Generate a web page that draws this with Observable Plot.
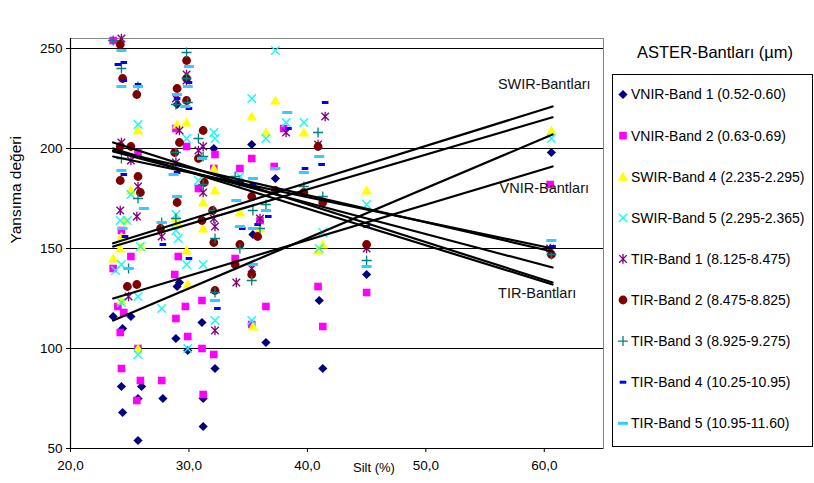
<!DOCTYPE html>
<html><head><meta charset="utf-8">
<script src="https://cdn.jsdelivr.net/npm/d3@7"></script>
<script src="https://cdn.jsdelivr.net/npm/@observablehq/plot@0.6"></script>
<style>
body{margin:0;background:#fff;}
#chart{width:814px;height:483px;}
</style>
</head><body><div id="chart"></div>
<script>
// ---- data (silt %, reflectance value) ----
const bandNames = [
  "VNIR-Band 1 (0.52-0.60)", "VNIR-Band 2 (0.63-0.69)", "SWIR-Band 4 (2.235-2.295)",
  "SWIR-Band 5 (2.295-2.365)", "TIR-Band 1 (8.125-8.475)", "TIR-Band 2 (8.475-8.825)",
  "TIR-Band 3 (8.925-9.275)", "TIR-Band 4 (10.25-10.95)", "TIR-Band 5 (10.95-11.60)"
];
const vnir1 = [[23.6,116],[24.4,110],[25.1,116],[24.3,81],[24.4,68],[25.7,75],[25.7,54],[26.0,81],[27.8,75],[28.9,105],[29.0,131],[29.2,133],[29.9,99],[31.1,113],[31.2,75],[31.2,61],[32.2,90],[29.0,222],[32.1,200],[34.3,183],[35.3,202],[35.4,157],[36.5,103],[37.3,185],[41.0,124],[41.3,90],[45.0,137],[60.6,198]];
const vnir2 = [[23.6,254],[23.6,140],[25.1,146],[29.1,146],[28.8,137],[24.0,121],[24.5,118],[24.2,108],[25.7,100],[24.3,90],[25.9,84],[25.6,74],[27.7,84],[28.9,115],[29.7,121],[29.9,106],[31.1,124],[31.1,100],[32.1,97],[31.2,77],[33.9,145],[24.3,159],[25.7,198],[28.9,210],[29.8,201],[32.2,197],[30.8,180],[32.1,190],[34.3,190],[35.3,195],[37.2,191],[38.0,210],[36.0,164],[35.3,112],[36.5,121],[40.9,131],[41.3,111],[45.0,128],[60.5,182]];
const swir4 = [[29.0,212],[29.8,213],[32.1,190],[32.2,179],[35.3,216],[25.7,209],[25.1,179],[31.2,173],[28.9,165],[31.2,160],[34.3,168],[24.3,156],[24.6,164],[23.6,145],[24.2,150],[26.0,151],[29.8,149],[29.9,132],[29.1,162],[25.7,100],[24.3,124],[37.3,224],[36.5,208],[39.7,208],[45.0,179],[36.0,160],[41.3,152],[35.4,111],[40.9,149],[60.6,209]];
const swir5 = [[25.7,212],[35.3,225],[32.1,208],[32.2,205],[29.8,205],[30.8,184],[34.3,186],[25.1,177],[24.2,164],[24.8,164],[28.9,167],[28.9,159],[23.8,139],[24.3,142],[29.8,142],[31.2,142],[29.1,155],[25.9,151],[24.3,123],[25.7,126],[27.7,120],[32.2,114],[29.9,100],[25.7,97],[35.3,114],[37.3,249],[36.5,205],[39.7,213],[38.2,213],[45.0,172],[41.3,158],[41.0,150],[60.6,205]];
const tir1 = [[24.3,255],[29.8,237],[29.8,234],[28.9,225],[29.2,209],[30.8,199],[31.2,201],[28.9,193],[24.3,203],[25.1,194],[25.7,181],[25.6,166],[24.2,169],[31.2,178],[32.1,165],[32.2,161],[27.7,156],[32.2,109],[34.0,133],[35.3,140],[24.9,126],[41.5,216],[38.2,208],[40.9,202],[36.0,165],[45.0,150],[60.5,150]];
const tir2 = [[24.2,252],[24.4,235],[25.6,227],[29.8,244],[29.8,224],[29.0,230],[29.8,235],[31.2,209],[29.2,203],[28.8,198],[30.8,195],[25.1,201],[24.2,201],[25.7,186],[24.2,184],[25.9,178],[29.0,173],[31.3,183],[32.0,169],[35.3,176],[27.6,160],[31.1,164],[32.1,153],[24.8,131],[25.6,132],[32.2,129],[34.3,152],[33.9,142],[35.3,137],[35.8,156],[37.3,179],[39.7,178],[40.9,201],[41.3,173],[45.0,152],[60.6,147]];
const tir3 = [[23.6,254],[24.3,240],[29.8,248],[29.8,235],[25.7,231],[28.9,222],[29.9,223],[30.8,205],[28.9,198],[31.2,196],[24.3,195],[33.9,186],[25.7,175],[31.2,182],[35.4,169],[27.7,163],[28.9,165],[32.1,169],[24.9,140],[32.2,128],[34.3,150],[35.3,134],[32.2,155],[40.9,208],[36.5,172],[39.7,181],[41.3,176],[36.0,160],[45.0,144],[60.6,147]];
const tir4 = [[24.5,243],[24.0,242],[25.7,232],[30.0,220],[30.0,233],[29.0,225],[31.1,195],[24.5,234],[24.5,187],[26.2,170],[29.0,188],[34.3,184],[35.8,162],[34.5,160],[27.8,152],[30.0,145],[32.4,120],[24.6,156],[41.5,223],[38.4,210],[35.4,182],[39.8,190],[41.2,192],[36.7,166],[35.4,142],[45.0,161],[60.7,151]];
const tir5 = [[24.3,249],[24.3,231],[25.7,231],[30.0,241],[29.7,221],[29.0,227],[29.9,231],[28.7,187],[31.1,195],[24.3,189],[26.2,170],[29.0,176],[34.0,174],[35.4,185],[24.4,160],[27.7,163],[32.2,124],[34.3,161],[24.9,140],[38.3,218],[41.0,196],[37.3,190],[39.7,188],[35.4,160],[36.5,169],[35.4,142],[45.0,141],[60.6,154]];
// linear trend values at the lowest and highest silt value, per band
const trendAtMin = [114, 125, 152.6, 151, 203, 200, 198.5, 196, 199];
const trendAtMax = [207, 191, 221, 215.6, 133, 132, 140.5, 150, 148.5];
const groupLabels = ["SWIR-Bantları", "VNIR-Bantları", "TIR-Bantları"];
const groupLabelX = [60.0, 60.0, 59.4];
const groupLabelY = [232, 180, 127.5];
const xTicks = [20, 30, 40, 50, 60];
const yTicks = [50, 100, 150, 200, 250];
const gridValues = [100, 150, 200, 250];
const xDomain = [20, 65];
const yDomain = [50, 255];

// ---- symbols ----
const rectSym = (w, h) => ({draw(c){ c.moveTo(-w,-h); c.lineTo(w,-h); c.lineTo(w,h); c.lineTo(-w,h); c.closePath(); }});
const symDiamond = {draw(c){ c.moveTo(0,-4.6); c.lineTo(4.6,0); c.lineTo(0,4.6); c.lineTo(-4.6,0); c.closePath(); }};
const symSquare = rectSym(3.8, 3.8);
const symTriangle = {draw(c){ c.moveTo(0,-5); c.lineTo(5.2,4); c.lineTo(-5.2,4); c.closePath(); }};
const symTimes = {draw(c){ c.moveTo(-4.2,-4.2); c.lineTo(4.2,4.2); c.moveTo(4.2,-4.2); c.lineTo(-4.2,4.2); }};
const symAsterisk = {draw(c){ c.moveTo(-3.8,-3.8); c.lineTo(3.8,3.8); c.moveTo(3.8,-3.8); c.lineTo(-3.8,3.8); c.moveTo(0,-4.8); c.lineTo(0,4.8); }};
const symCircle = {draw(c){ c.moveTo(4.4,0); c.arc(0,0,4.4,0,2*Math.PI); }};
const symPlus = {draw(c){ c.moveTo(-5,0); c.lineTo(5,0); c.moveTo(0,-5); c.lineTo(0,5); }};
const symDashSmall = rectSym(3.3, 1.5);
const symDashLarge = rectSym(5, 1.5);

const styles = [
  {sym: symDiamond, fill: "#000080", stroke: "none"},
  {sym: symSquare, fill: "#FF00FF", stroke: "none"},
  {sym: symTriangle, fill: "#FFFF00", stroke: "none"},
  {sym: symTimes, fill: "none", stroke: "#00FFFF"},
  {sym: symAsterisk, fill: "none", stroke: "#800080"},
  {sym: symCircle, fill: "#800000", stroke: "none"},
  {sym: symPlus, fill: "none", stroke: "#008080"},
  {sym: symDashSmall, fill: "#0000FF", stroke: "none"},
  {sym: symDashLarge, fill: "#33CCFF", stroke: "none"}
];
const seriesData = [vnir1, vnir2, swir4, swir5, tir1, tir2, tir3, tir4, tir5];

const allSilt = seriesData.flat().map(d => d[0]);
const [siltMin, siltMax] = d3.extent(allSilt);
const trendData = bandNames.flatMap((name, i) => [
  {band: name, x: siltMin, y: trendAtMin[i]},
  {band: name, x: siltMax, y: trendAtMax[i]}
]);
const labelData = groupLabels.map((t, i) => ({t, x: groupLabelX[i], y: groupLabelY[i]}));

const font = '"Liberation Sans", Arial, sans-serif';
const fmt = d => d.toFixed(1).replace(".", ",");

const dotMarks = seriesData.map((data, i) => Plot.dot(data, {
  x: d => d[0], y: d => d[1], symbol: styles[i].sym,
  fill: styles[i].fill, stroke: styles[i].stroke, strokeWidth: 1.3, r: 4
}));

const plot = Plot.plot({
  width: 814, height: 483,
  marginLeft: 70, marginRight: 211, marginTop: 38, marginBottom: 35,
  x: {domain: xDomain}, y: {domain: yDomain},
  style: {fontFamily: font, fontSize: "13px", color: "black", background: "white", overflow: "visible"},
  marks: [
    Plot.frame({stroke: "#888"}),
    Plot.ruleY(gridValues, {stroke: "black", strokeWidth: 1}),
    Plot.ruleX([xDomain[0]], {stroke: "black", strokeWidth: 1.2}),
    Plot.ruleY([yDomain[0]], {stroke: "black", strokeWidth: 1.2}),
    Plot.axisX({ticks: xTicks, tickFormat: fmt, tickSize: 4, tickPadding: 8, label: null, fontSize: 13.5}),
    Plot.axisY({ticks: yTicks, tickSize: 4, tickPadding: 4, label: null, fontSize: 13.5}),
    ...dotMarks,
    Plot.line(trendData, {x: "x", y: "y", z: "band", stroke: "black", strokeWidth: 2.2}),
    Plot.text(labelData, {x: "x", y: "y", text: "t", fontSize: 14.5, fill: "#111"}),
    Plot.text(["Silt (%)"], {frameAnchor: "bottom", dx: 37, dy: 19, lineAnchor: "middle", fontSize: 13}),
    Plot.text(["Yansıma değeri"], {frameAnchor: "left", rotate: -90, dx: -54, fontSize: 15.5})
  ]
});

// ---- legend (drawn into the same SVG, right side) ----
const svg = d3.select(plot);
svg.append("rect").attr("x", 612.5).attr("y", 74.5).attr("width", 200).attr("height", 372)
  .attr("fill", "white").attr("stroke", "black").attr("stroke-width", 1);
svg.append("text").attr("x", 715).attr("y", 52).attr("text-anchor", "middle").attr("dy", "0.35em")
  .attr("font-family", font).attr("font-size", 16.5).text("ASTER-Bantları (µm)");
bandNames.forEach((name, i) => {
  const y = 94.5 + i * 41.1;
  svg.append("path").attr("d", d3.symbol().type(styles[i].sym)())
    .attr("transform", `translate(623,${y})`)
    .attr("fill", styles[i].fill).attr("stroke", styles[i].stroke).attr("stroke-width", 1.3);
  svg.append("text").attr("x", 631).attr("y", y).attr("dy", "0.35em").attr("text-anchor", "start")
    .attr("font-family", font).attr("font-size", 14).text(name);
});

document.getElementById("chart").appendChild(plot);
</script>
</body></html>
